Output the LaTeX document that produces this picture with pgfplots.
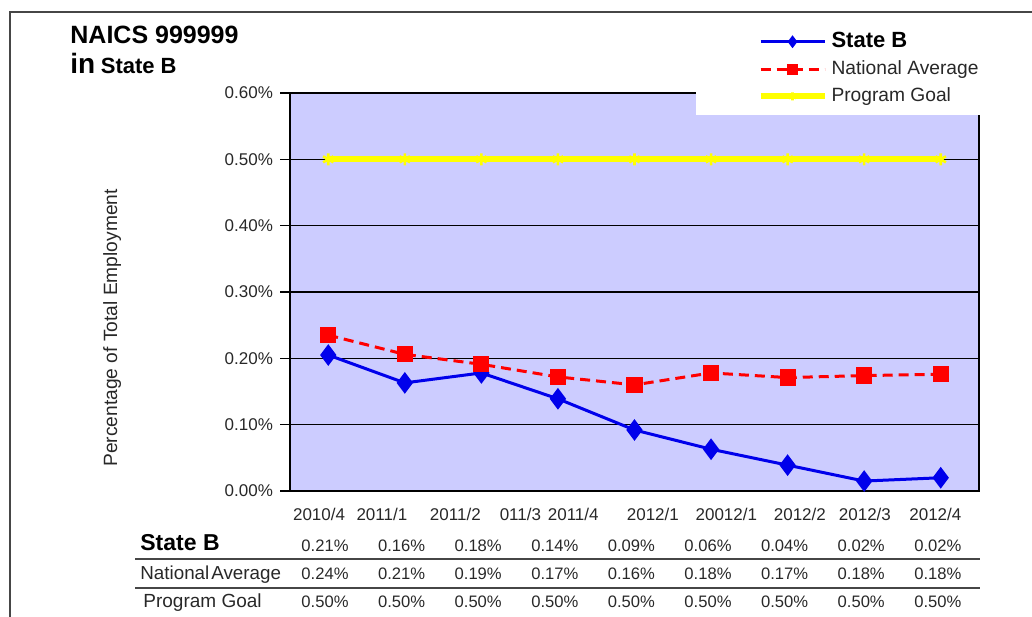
\documentclass[border=0pt]{standalone}
\usepackage{fontspec}
\setmainfont{Liberation Sans}
\usepackage{pgfplots}
\pgfplotsset{compat=1.18}
\usepackage{pgfplotstable}

\definecolor{plotbg}{RGB}{204,204,255}
\definecolor{sblue}{RGB}{0,0,235}
\definecolor{nred}{RGB}{255,0,0}
\definecolor{gyellow}{RGB}{255,255,0}
\definecolor{framegray}{RGB}{70,70,70}
\definecolor{txt}{RGB}{40,40,40}

\pgfplotstableread{
x state nat goal
0 0.205 0.235 0.50
1 0.163 0.206 0.50
2 0.178 0.191 0.50
3 0.139 0.172 0.50
4 0.092 0.160 0.50
5 0.063 0.178 0.50
6 0.039 0.171 0.50
7 0.015 0.174 0.50
8 0.020 0.176 0.50
}\chartdata

\begin{document}
\begin{tikzpicture}
\useasboundingbox (0,0) rectangle (516pt,-308pt);
% outer frame (top and left edges visible)
\draw[framegray, line width=1pt] (5pt,-330pt) -- (5pt,-6pt) -- (540pt,-6pt);
\begin{axis}[
  at={(145pt,-245.5pt)}, anchor=south west,
  width=344.5pt, height=199pt, scale only axis,
  xmin=-0.5, xmax=8.5, ymin=0, ymax=0.6,
  clip=false,
  axis background/.style={fill=plotbg},
  axis line style={black, line width=0.8pt},
  ytick={0,0.1,0.2,0.3,0.4,0.5,0.6},
  yticklabel={\pgfmathprintnumber[fixed,fixed zerofill,precision=2]{\tick}\%},
  /pgf/number format/assume math mode=true,
  tick align=outside,
  ytick pos=left,
  major tick length=5pt,
  ytick style={black, line width=0.8pt},
  xtick style={draw=none},
  ymajorgrids,
  grid style={black, line width=0.8pt},
  xtick={-0.12,0.70,1.66,2.51,3.20,4.24,5.20,6.16,7.01,7.93},
  xticklabels={2010/4,2011/1,2011/2,011/3,2011/4,2012/1,20012/1,2012/2,2012/3,2012/4},
  xticklabel style={font=\fontsize{8.5}{10}\selectfont, text=txt},
  yticklabel style={font=\fontsize{8.5}{10}\selectfont, text=txt},
  ylabel={Percentage of Total Employment},
  ylabel style={at={(axis description cs:-0.258,0.41)}, anchor=center, font=\fontsize{9.6}{11}\selectfont, text=txt},
  legend style={at={(0.588,1.178)}, anchor=north west, fill=white, draw=none,
    inner xsep=31pt, inner ysep=3pt, font=\fontsize{9.6}{11}\selectfont, text=txt,
    row sep=1pt, cells={anchor=west}},
  legend image code/.code={\draw[mark repeat=2,mark phase=2,#1,mark size=2pt] plot coordinates {(0pt,0pt) (16pt,0pt) (32pt,0pt)};},
]
\addplot[sblue, line width=1.5pt, mark=diamond*, mark size=4.2pt, mark options={solid, fill=sblue}] table[x=x, y=state] {\chartdata};
\addlegendentry{\fontsize{11}{14}\selectfont\bfseries\color{black}State B}
\addplot[nred, line width=1.5pt, dash pattern=on 5pt off 3pt, mark=square*, mark size=3.3pt, mark options={solid, fill=nred}] table[x=x, y=nat] {\chartdata};
\addlegendentry{National Average}
\addplot[gyellow, line width=3pt, mark=asterisk, mark size=3pt, mark options={solid, line width=1.3pt}] table[x=x, y=goal] {\chartdata};
\addlegendentry{Program Goal}
\end{axis}
\begin{scope}[x=0.5pt, y=-0.5pt]
  % title
  \node[anchor=base west, inner sep=0pt, font=\bfseries\fontsize{12.5}{14}\selectfont] at (70,43) {NAICS 999999};
  \node[anchor=base west, inner sep=0pt] at (70,73) {{\fontsize{14}{16}\selectfont\bfseries in} {\fontsize{11}{13}\selectfont\bfseries State B}};
  % data table
  \draw[framegray, line width=1pt] (135,559) -- (980,559);
  \draw[framegray, line width=1pt] (135,588) -- (980,588);
  \node[anchor=base west, inner sep=0pt, font=\bfseries\fontsize{11.5}{13}\selectfont] at (140,550) {State B};
  \node[anchor=base west, inner sep=0pt, font=\fontsize{9.4}{11}\selectfont, text=txt] at (140,579) {National\hspace{1pt}Average};
  \node[anchor=base west, inner sep=0pt, font=\fontsize{9.5}{11}\selectfont, text=txt] at (143,607) {Program Goal};
  \foreach \v [count=\i from 0] in {0.21,0.16,0.18,0.14,0.09,0.06,0.04,0.02,0.02}
    \node[anchor=base, inner sep=0pt, font=\fontsize{8.3}{10}\selectfont, text=txt] at (325+76.6*\i,551) {\v\%};
  \foreach \v [count=\i from 0] in {0.24,0.21,0.19,0.17,0.16,0.18,0.17,0.18,0.18}
    \node[anchor=base, inner sep=0pt, font=\fontsize{8.3}{10}\selectfont, text=txt] at (325+76.6*\i,579) {\v\%};
  \foreach \v [count=\i from 0] in {0.50,0.50,0.50,0.50,0.50,0.50,0.50,0.50,0.50}
    \node[anchor=base, inner sep=0pt, font=\fontsize{8.3}{10}\selectfont, text=txt] at (325+76.6*\i,607) {\v\%};
\end{scope}
\end{tikzpicture}
\end{document}
